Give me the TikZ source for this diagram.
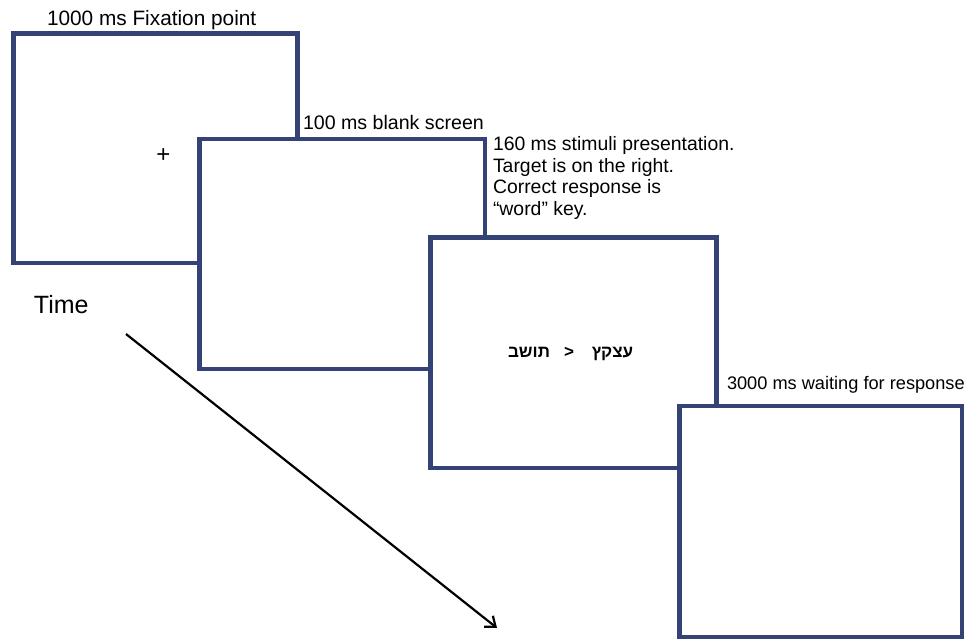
\documentclass[tikz,border=0pt]{standalone}
\usepackage{fontspec}
\setmainfont{Liberation Sans}
\newfontfamily\hebfont[Script=Hebrew]{Liberation Sans}
\TeXXeTstate=1
\usetikzlibrary{arrows.meta}
\definecolor{navy}{RGB}{52,66,118}
\tikzset{
  screen/.style={draw=navy, line width=4.2pt, fill=white, rectangle, inner sep=0pt, outer sep=0pt, anchor=north west},
  lbl/.style={anchor=base west, inner sep=0pt, outer sep=0pt, text=black},
  heb/.style={anchor=base, inner sep=0pt, font=\hebfont\bfseries\fontsize{17}{20}\selectfont},
}
\begin{document}
\begin{tikzpicture}[x=1pt,y=-1pt]
\useasboundingbox (0,0) rectangle (964,639);
% screens
\node[screen, minimum width=284pt, minimum height=229.5pt] (s1) at (13.5,33.5) {};
\node[screen, minimum width=285.5pt, minimum height=230pt] (s2) at (199.5,139) {};
\node[screen, minimum width=286pt, minimum height=230.5pt] (s3) at (430.5,237.5) {};
\node[screen, minimum width=282.5pt, minimum height=231pt] (s4) at (679.5,406) {};
% labels
\node[lbl, font=\fontsize{20.8}{24}\selectfont] (l1) at (47,26) {1000 ms Fixation point};
\node[lbl, font=\fontsize{19.6}{24}\selectfont] (l2) at (303,130) {100 ms blank screen};
\node[lbl, font=\fontsize{19.4}{21.5}\selectfont, align=left, anchor=north west] (l3) at (493,136.5)
  {160 ms stimuli presentation.\\Target is on the right.\\Correct response is\\``word'' key.};
\node[lbl, font=\fontsize{18.2}{22}\selectfont] (l4) at (727,389) {3000 ms waiting for response};
\node[lbl, font=\fontsize{25}{28}\selectfont] (time) at (34,313) {Time};
% fixation cross
\node[anchor=center, inner sep=0pt, font=\fontsize{24}{26}\selectfont] (fix) at (163.5,156) {+};
% stimulus
\node[heb] (w1) at (529,357) {\beginR תושב\endR};
\node[anchor=base, inner sep=0pt, font=\bfseries\fontsize{17}{20}\selectfont] (gt) at (569,357) {\char"003E};
\node[heb] (w2) at (612.5,357) {\beginR עצקץ\endR};
% time arrow
\coordinate (a1) at (126,334);
\coordinate (a2) at (497,628);
\draw[line width=2.2pt, -{Straight Barb[length=9pt,width=14pt,line width=2.2pt]}] (a1) -- (a2);
\end{tikzpicture}
\end{document}
